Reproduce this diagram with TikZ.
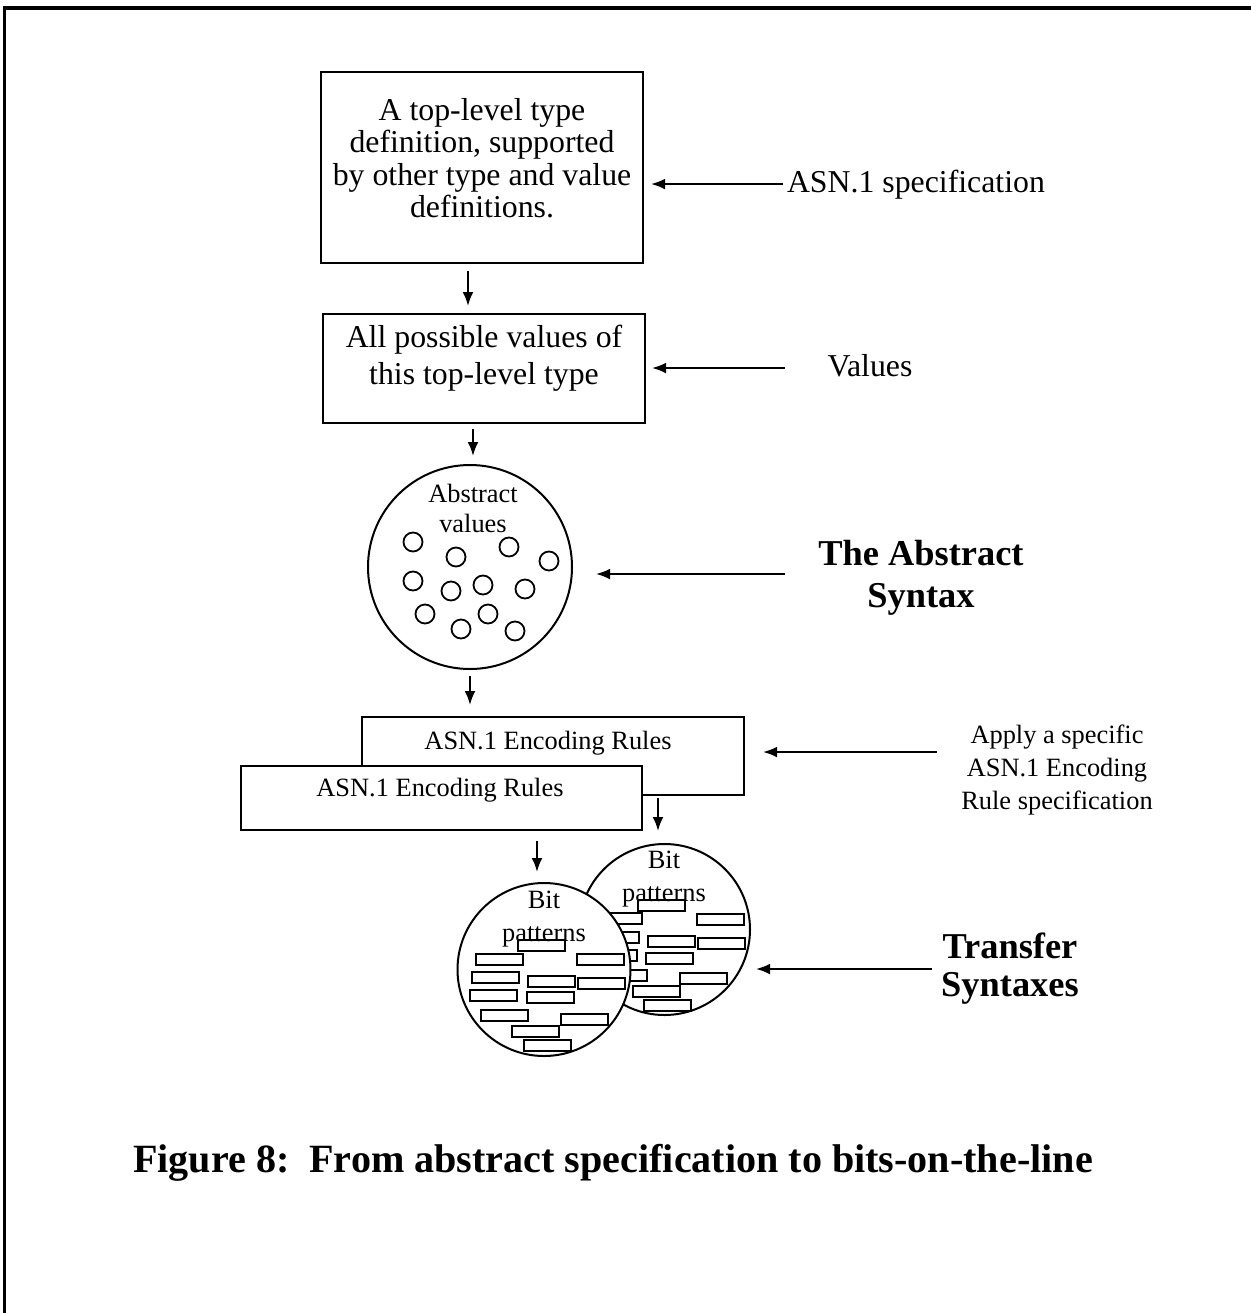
\documentclass[tikz,border=0pt]{standalone}
\usepackage{fontspec}
\setmainfont{Liberation Serif}
\usetikzlibrary{arrows.meta}

\begin{document}
\begin{tikzpicture}[x=0.5pt,y=-0.5pt,
  line width=1pt,
  arr/.style={-{Latex[length=7pt,width=5.4pt]}, line width=1pt},
  box/.style={draw, line width=1pt, inner sep=0pt},
  norm/.style={font=\fontsize{15.9}{16.2}\selectfont, align=center, inner sep=0pt},
  small/.style={font=\fontsize{13.2}{16.5}\selectfont, align=center, inner sep=0pt},
  big/.style={font=\fontsize{18.2}{21}\selectfont\bfseries, align=center, inner sep=0pt},
  dot/.style={draw, circle, minimum size=9.5pt, inner sep=0pt, line width=0.9pt},
  blk/.style={draw, line width=0.9pt},
  ring/.style={draw, circle, inner sep=0pt, line width=1pt}
]
\useasboundingbox (0,0) rectangle (1251,1313);
% page frame: top and left edges
\draw[line width=1.8pt] (4.5,1313) -- (4.5,8) -- (1252,8);

% specification box
\node[box, minimum width=161pt, minimum height=95.5pt] (def) at (482,167.5) {};
\node[norm] (deftext) at (482,158) {A top-level type\\definition, supported\\by other type and value\\definitions.};

% values box
\node[box, minimum width=161pt, minimum height=54.5pt] (vals) at (484,368.5) {};
\node[norm, font=\fontsize{15.9}{18.5}\selectfont] (valstext) at (484,358) {All possible values of\\this top-level type};

% abstract values
\node[ring, minimum size=102pt] (abs) at (470,567) {};
\node[small, font=\fontsize{13.2}{15}\selectfont] (abstext) at (473,508) {Abstract\\values};
\foreach \p [count=\i] in {(413,542),(456,557),(509,547),(549,561),(413,581),(451,591),(483,585),(525,589),(425,614),(488,614),(461,629),(515,631)}
  \node[dot] (d\i) at \p {};

% encoding rules boxes
\node[box, minimum width=191pt, minimum height=39pt] (erb) at (553,756) {};
\node[small] (erbtext) at (548,743) {ASN.1 Encoding Rules};
\node[box, fill=white, minimum width=200.5pt, minimum height=32pt] (erf) at (441.5,798) {};
\node[small] (erftext) at (440,790) {ASN.1 Encoding Rules};

% bit pattern sets (back one first)
\node[ring, fill=white, minimum size=85.5pt] (bpr) at (664.5,929.5) {};
\node[small] (bprtext) at (664,879) {Bit\\patterns};
\foreach \x/\y in {638/900,697/914,595/913,648/936,698/938,592/932,590/950,646/953,600/970,680/973,633/986,644/1000}
  \draw[blk] (\x,\y) rectangle ++(47,11);
\node[ring, fill=white, minimum size=86.5pt] (bpl) at (544,969.5) {};
\node[small] (bpltext) at (544,919) {Bit\\patterns};
\foreach \x/\y in {518/940,476/954,577/954,472/972,528/976,578/978,470/990,527/992,481/1010,561/1014,512/1026,524/1040}
  \draw[blk] (\x,\y) rectangle ++(47,11);

% side labels
\node[norm, anchor=west] (spec) at (786,185) {ASN.1 specification};
\node[norm] (vlab) at (870,366) {Values};
\node[big] (asyn) at (921,578) {The Abstract\\Syntax};
\node[small] (apply) at (1057,770) {Apply a specific\\ASN.1 Encoding\\Rule specification};
\node[big, font=\fontsize{18.2}{19}\selectfont\bfseries] (tsyn) at (1010,969) {Transfer\\Syntaxes};

% caption
\node[font=\fontsize{20.05}{24}\selectfont\bfseries, inner sep=0pt] (cap) at (613,1163) {Figure 8:\ \ From abstract specification to bits-on-the-line};

% horizontal arrows
\coordinate (t1) at (783,184);
\draw[arr, shorten >=3.5pt] (t1) -- (def.east |- t1);
\coordinate (t2) at (785,368);
\draw[arr, shorten >=3pt] (t2) -- (vals.east |- t2);
\coordinate (t3) at (785,574);
\draw[arr, shorten >=11.5pt] (t3) -- (abs.east |- t3);
\coordinate (t4) at (937,752);
\draw[arr, shorten >=9pt] (t4) -- (erb.east |- t4);
\coordinate (t5) at (932,969);
\draw[arr, shorten >=2.5pt] (t5) -- (bpr.east |- t5);

% vertical arrows
\coordinate (v1) at (468,0);
\draw[arr, shorten <=3.5pt, shorten >=3.5pt] (def.south -| v1) -- (vals.north -| v1);
\coordinate (v2) at (473,0);
\draw[arr, shorten <=2.5pt, shorten >=4pt] (vals.south -| v2) -- (abs.north -| v2);
\draw[arr, shorten <=3pt, shorten >=5.5pt] (abs.south) -- (erb.north -| abs.south);
\coordinate (v4) at (537,0);
\draw[arr, shorten <=5pt, shorten >=5pt] (erf.south -| v4) -- (bpl.north -| v4);
\coordinate (v5) at (658,0);
\draw[arr, shorten <=1pt, shorten >=6pt] (erb.south -| v5) -- (bpr.north -| v5);
\end{tikzpicture}
\end{document}
